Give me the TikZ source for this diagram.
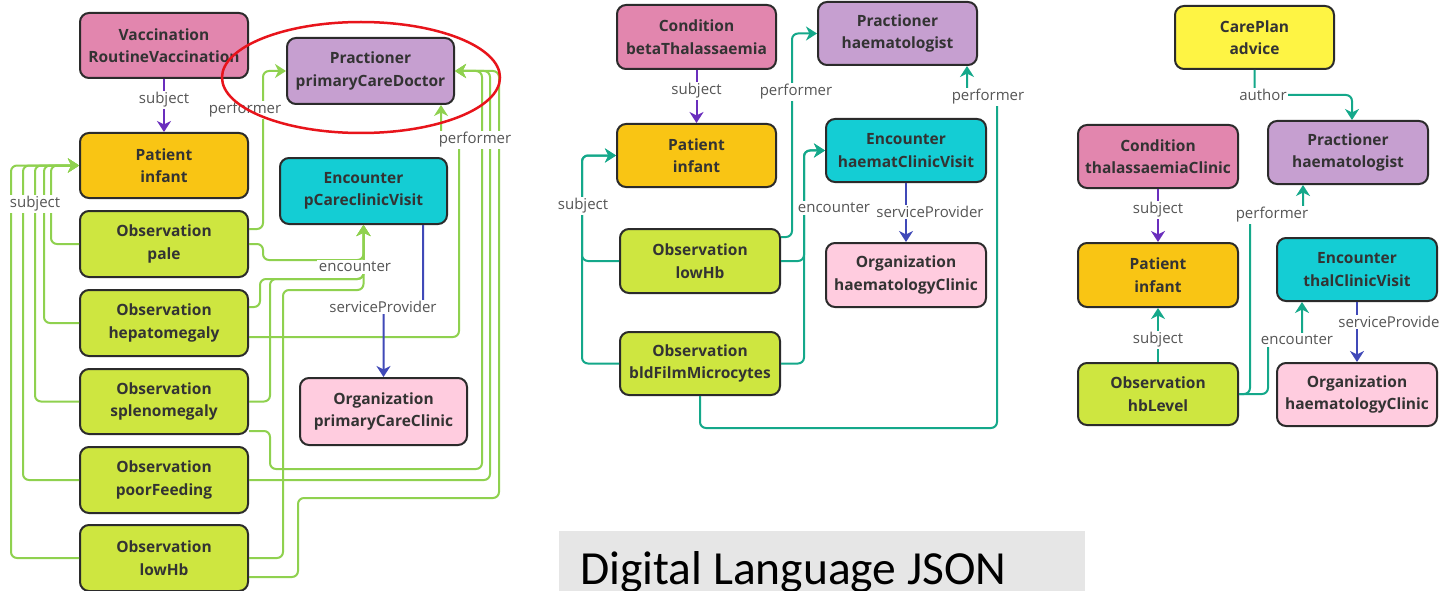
\documentclass[tikz,border=0pt]{standalone}
\usepackage{fontspec}
\setmainfont{Open Sans}
\newfontfamily\slidefont{Carlito}
\usetikzlibrary{arrows.meta}

\definecolor{vacpink}{HTML}{E286AE}
\definecolor{pracpurple}{HTML}{C69FD0}
\definecolor{patorange}{HTML}{F9C514}
\definecolor{enccyan}{HTML}{14CDD4}
\definecolor{obslime}{HTML}{CEE640}
\definecolor{orgpink}{HTML}{FFCCDF}
\definecolor{planyellow}{HTML}{FEF444}
\definecolor{linegreen}{HTML}{8FD14F}
\definecolor{lineteal}{HTML}{14A88A}
\definecolor{linepurple}{HTML}{6A2EBD}
\definecolor{lineblue}{HTML}{4049B8}
\definecolor{boxedge}{HTML}{2B2B2B}
\definecolor{boxtext}{HTML}{333333}
\definecolor{labeltext}{HTML}{555555}
\definecolor{slidegray}{HTML}{E6E6E6}
\definecolor{ringred}{HTML}{E8141B}

\begin{document}
\begin{tikzpicture}[x=1pt,y=-1pt,
  res/.style={draw=boxedge, line width=2pt, rounded corners=9pt, inner sep=0pt,
    align=center, text=boxtext, font=\bfseries\fontsize{15.5}{22.5}\selectfont},
  sz/.style 2 args={minimum width=#1pt, minimum height=#2pt},
  tipstyle/.style={-{Stealth[length=11pt,width=14pt,inset=3.5pt]}},
  gl/.style={draw=linegreen, line width=2pt, rounded corners=6pt, tipstyle},
  tl/.style={draw=lineteal, line width=2pt, rounded corners=6pt, tipstyle},
  pl/.style={draw=linepurple, line width=2pt, tipstyle},
  bl/.style={draw=lineblue, line width=2pt, rounded corners=6pt, tipstyle},
  lbl/.style={fill=white, inner sep=1.5pt, text=labeltext, font=\fontsize{15}{18}\selectfont},
]
\useasboundingbox (0,0) rectangle (1440,591);
\clip (0,0) rectangle (1440,591);
\fill[white] (0,0) rectangle (1440,591);

% ---------------- primary care view ----------------
\node[res, sz={168}{65}, fill=vacpink]    (vac)   at (164,45.5)  {Vaccination\\RoutineVaccination};
\node[res, sz={167}{66}, fill=pracpurple] (prac1) at (370.5,71)  {Practioner\\primaryCareDoctor};
\node[res, sz={168}{65}, fill=patorange]  (pat1)  at (164,165.5) {Patient\\infant};
\node[res, sz={167}{66}, fill=enccyan]    (enc1)  at (363.5,191) {Encounter\\pCareclinicVisit};
\node[res, sz={168}{66}, fill=obslime]    (pale)  at (164,244)   {Observation\\pale};
\node[res, sz={168}{66}, fill=obslime]    (hep)   at (164,323)   {Observation\\hepatomegaly};
\node[res, sz={168}{65}, fill=obslime]    (spl)   at (164,401.5) {Observation\\splenomegaly};
\node[res, sz={168}{66}, fill=obslime]    (poor)  at (164,480)   {Observation\\poorFeeding};
\node[res, sz={168}{66}, fill=obslime]    (low1)  at (164,558)   {Observation\\lowHb};
\node[res, sz={167}{67}, fill=orgpink]    (org1)  at (383.5,411.5) {Organization\\primaryCareClinic};

% subject links
\draw[pl] (vac.south) -- (pat1.north);
\draw[gl] (pale.west) -| ([xshift=-28pt]pat1.west) -- (pat1.west);
\draw[gl] (hep.west)  -| ([xshift=-35pt]pat1.west) -- (pat1.west);
\draw[gl] (spl.west)  -| ([xshift=-44pt]pat1.west) -- (pat1.west);
\draw[gl] (poor.west) -| ([xshift=-56pt]pat1.west) -- (pat1.west);
\draw[gl] (low1.west) -| ([xshift=-68pt]pat1.west) -- (pat1.west);

% performer links
\draw[gl] ([yshift=15pt]pale.east) -- (263,229) |- (prac1.west);
\draw[gl] ([yshift=-14pt]hep.east) -| (459,138) -| ([xshift=70.5pt]prac1.south);
\draw[gl] ([yshift=-29.5pt]spl.east) -- (270,431) -- (270,469) -- (482,469) |- (prac1.east);
\draw[gl] (poor.east) -- (490,480) |- (prac1.east);
\draw[gl] ([yshift=-19pt]low1.east) -- (298,577) -- (298,498) -- (499,498) |- (prac1.east);

% encounter links
\draw[gl] (pale.east) -- (263,244) -- (263,260) -- (363.5,260) -- (enc1.south);
\draw[gl] ([yshift=16pt]hep.east) -- (260,307) -- (260,279) -- (363.5,279) -- (enc1.south);
\draw[gl] (spl.east) -- (270,401.5) -- (270,279) -- (363.5,279) -- (enc1.south);
\draw[gl] (low1.east) -- (283,558) -- (283,290) -- (363.5,290) -- (enc1.south);

% service provider
\draw[bl] ([xshift=59.5pt]enc1.south) -- (423,307) -- (383.5,307) -- (org1.north);

\node[lbl] (s1)  at (164,100) {subject};
\node[lbl] (s1b) at (35,204)  {subject};
\node[lbl] (p1a) at (245,110) {performer};
\node[lbl] (p1b) at (475,140) {performer};
\node[lbl] (e1)  at (355,267) {encounter};
\node[lbl] (sp1) at (383,307) {serviceProvider};

% ---------------- haematology view ----------------
\node[res, sz={159}{64}, fill=vacpink]    (cond2) at (696.5,37)  {Condition\\betaThalassaemia};
\node[res, sz={159}{63}, fill=pracpurple] (prac2) at (897.5,33.5) {Practioner\\haematologist};
\node[res, sz={159}{63}, fill=patorange]  (pat2)  at (696.5,155.5) {Patient\\infant};
\node[res, sz={160}{63}, fill=enccyan]    (enc2)  at (906,150.5) {Encounter\\haematClinicVisit};
\node[res, sz={160}{64}, fill=obslime]    (low2)  at (700,261)   {Observation\\lowHb};
\node[res, sz={160}{63}, fill=obslime]    (bld)   at (700,363.5) {Observation\\bldFilmMicrocytes};
\node[res, sz={160}{64}, fill=orgpink]    (org2)  at (906,275)   {Organization\\haematologyClinic};

\draw[pl] (cond2.south) -- (pat2.north);
\draw[tl] (low2.west) -| ([xshift=-34pt]pat2.west) -- (pat2.west);
\draw[tl] (bld.west)  -| ([xshift=-34pt]pat2.west) -- (pat2.west);
\draw[tl] ([yshift=24pt]low2.east) -- (792,237) |- (prac2.west);
\draw[tl] (low2.east) -- (804,261) |- (enc2.west);
\draw[tl] (bld.east)  -- (804,363.5) |- (enc2.west);
\draw[bl] (enc2.south) -- (org2.north);
\draw[tl] (bld.south) |- (997,428) -- (997,97) -| ([xshift=69.5pt]prac2.south);

\node[lbl] (s2)  at (696.5,91) {subject};
\node[lbl] (s2b) at (583,206)  {subject};
\node[lbl] (p2a) at (796,92)   {performer};
\node[lbl] (e2)  at (834,208)  {encounter};
\node[lbl] (sp2) at (930,212)  {serviceProvider};
\node[lbl] (p2b) at (988,97)   {performer};

% ---------------- care plan view ----------------
\node[res, sz={159}{63}, fill=planyellow] (care)  at (1254.5,37.5) {CarePlan\\advice};
\node[res, sz={160}{63}, fill=vacpink]    (cond3) at (1158,156.5)  {Condition\\thalassaemiaClinic};
\node[res, sz={160}{63}, fill=pracpurple] (prac3) at (1348,152.5)  {Practioner\\haematologist};
\node[res, sz={160}{64}, fill=patorange]  (pat3)  at (1158,275)    {Patient\\infant};
\node[res, sz={160}{63}, fill=enccyan]    (enc3)  at (1357,269.5)  {Encounter\\thalClinicVisit};
\node[res, sz={160}{62}, fill=obslime]    (hb)    at (1158,394)    {Observation\\hbLevel};
\node[res, sz={160}{63}, fill=orgpink]    (org3)  at (1357,394.5)  {Organization\\haematologyClinic};

\draw[tl] (care.south) -- (1254.5,95) -| ([xshift=4pt]prac3.north);
\draw[pl] (cond3.south) -- (pat3.north);
\draw[tl] (hb.north) -- (pat3.south);
\draw[tl] (hb.east) -- (1250,394) -- (1250,215) -| ([xshift=-45pt]prac3.south);
\draw[tl] (hb.east) -- (1268,394) -- (1268,340) -| ([xshift=-55pt]enc3.south);
\draw[bl] (enc3.south) -- (org3.north);

\node[lbl] (a3)  at (1263,95)   {author};
\node[lbl] (s3)  at (1158,210)  {subject};
\node[lbl] (s3b) at (1158,340)  {subject};
\node[lbl] (p3)  at (1272,215)  {performer};
\node[lbl] (e3)  at (1297,340)  {encounter};
\node[lbl] (sp3) at (1392,322)  {serviceProvider};

% highlight ring round the primary care doctor
\draw[ringred, line width=2.5pt] (361,77.5) ellipse [x radius=139pt, y radius=55.5pt];

% slide caption
\fill[slidegray] (559,531) rectangle (1085,600);
\node[anchor=base west, inner sep=0pt, text=black,
      font=\slidefont\fontsize{47.5}{50}\selectfont] (title) at (580,584) {Digital Language JSON};
\end{tikzpicture}
\end{document}
